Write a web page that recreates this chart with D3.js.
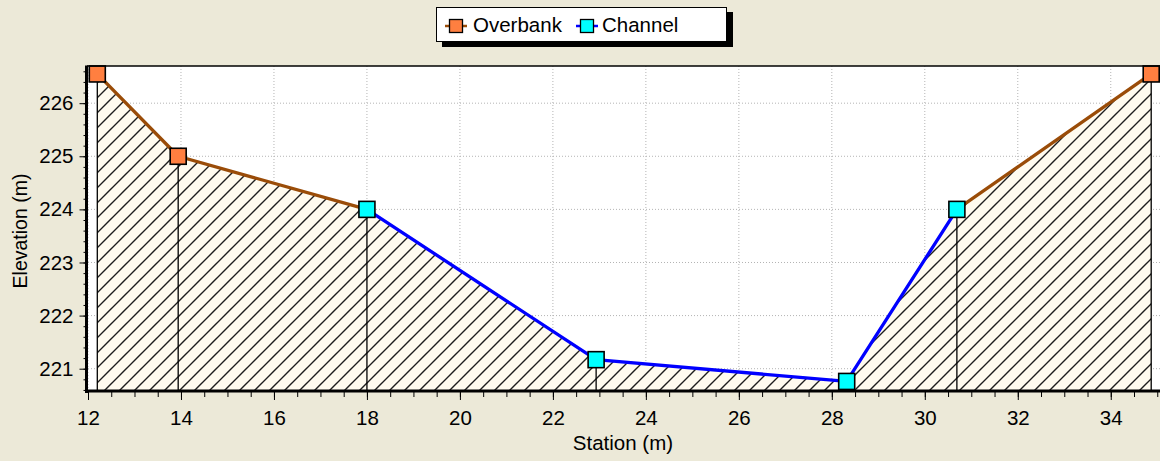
<!DOCTYPE html>
<html>
<head>
<meta charset="utf-8">
<script src="https://cdn.jsdelivr.net/npm/d3@7"></script>
<style>
  html, body { margin: 0; padding: 0; background: #ece9d8; }
  svg { display: block; }
  text { font-family: "Liberation Sans", Arial, sans-serif; fill: #000; }
</style>
</head>
<body>
<svg id="chart" width="1160" height="461"></svg>
<script>
// ---- data ----
const stations   = [12.2, 13.94, 18.0, 22.93, 28.32, 30.69, 34.87];
const elevations = [226.55, 225.0, 224.0, 221.17, 220.76, 224.0, 226.55];
const pointTypes = ["Overbank", "Overbank", "Channel", "Channel", "Channel", "Channel", "Overbank"];
const legendLabels = ["Overbank", "Channel"];
const xTickValues = [12, 14, 16, 18, 20, 22, 24, 26, 28, 30, 32, 34];
const yTickValues = [221, 222, 223, 224, 225, 226];
const xTitle = "Station (m)";
const yTitle = "Elevation (m)";

const colors = {
  Overbank: { line: "#9a4c08", fill: "#ff7f40" },
  Channel:  { line: "#0000ff", fill: "#00ffff" }
};

const W = 1160, H = 461;
const svg = d3.select("#chart");

const x = d3.scaleLinear().domain([12, 35.1]).range([88, 1161.9]);
const y = d3.scaleLinear().domain([220.58, 226.7]).range([391, 66]);

const x0 = x.range()[0], x1 = x.range()[1];
const yTop = y.range()[1], yBot = y.range()[0];

// defs: hatch pattern
const defs = svg.append("defs");
const pat = defs.append("pattern")
  .attr("id", "hatch").attr("patternUnits", "userSpaceOnUse")
  .attr("width", 15).attr("height", 15);
pat.append("rect").attr("width", 15).attr("height", 15).attr("fill", "#fffbef");
pat.append("path").attr("d", "M-2,2 L2,-2 M0,15 L15,0 M13,17 L17,13")
  .attr("stroke", "#1e1e1e").attr("stroke-width", 1.4);

// plot background
svg.append("rect").attr("x", x0).attr("y", yTop)
  .attr("width", x1 - x0).attr("height", yBot - yTop).attr("fill", "#ffffff");

// grid
const grid = svg.append("g").attr("stroke", "#b4b4b4").attr("stroke-dasharray", "1,2").attr("stroke-width", 1);
xTickValues.forEach(v => {
  grid.append("line").attr("x1", x(v)).attr("x2", x(v)).attr("y1", yTop).attr("y2", yBot);
});
yTickValues.forEach(v => {
  grid.append("line").attr("x1", x0).attr("x2", x1).attr("y1", y(v)).attr("y2", y(v));
});

// data points
const pts = stations.map((s, i) => ({ s, e: elevations[i], t: pointTypes[i] }));

// hatched area
const area = d3.area().x(d => x(d.s)).y0(yBot).y1(d => y(d.e));
svg.append("path").datum(pts).attr("d", area).attr("fill", "url(#hatch)");

// vertical station lines
svg.append("g").selectAll("line").data(pts).join("line")
  .attr("x1", d => x(d.s)).attr("x2", d => x(d.s))
  .attr("y1", d => y(d.e)).attr("y2", yBot)
  .attr("stroke", "#000").attr("stroke-width", 1.3);

// line segments
const line = d3.line().x(d => x(d.s)).y(d => y(d.e));
for (let i = 0; i < pts.length - 1; i++) {
  const type = (pts[i].t === "Channel" && pts[i + 1].t === "Channel") ? "Channel" : "Overbank";
  svg.append("path").datum([pts[i], pts[i + 1]]).attr("d", line)
    .attr("fill", "none").attr("stroke", colors[type].line)
    .attr("stroke-width", 3.3).attr("stroke-linecap", "round");
}

// markers
const ms = 16;
svg.append("g").selectAll("rect").data(pts).join("rect")
  .attr("x", d => x(d.s) - ms / 2).attr("y", d => y(d.e) - ms / 2)
  .attr("width", ms).attr("height", ms)
  .attr("fill", d => colors[d.t].fill)
  .attr("stroke", "#000").attr("stroke-width", 1.6);

// background cover below plot
svg.append("rect").attr("x", 0).attr("y", yBot).attr("width", W).attr("height", H - yBot).attr("fill", "#ece9d8");

// axes
const yAxisMajor = d3.axisLeft(y).tickValues(yTickValues).tickSize(7).tickFormat(d3.format("d"));
const yMinor = d3.range(220.6, 226.7, 0.2);
const gy = svg.append("g").attr("transform", `translate(${x0 - 1.5},0)`);
gy.append("g").call(d3.axisLeft(y).tickValues(yMinor).tickSize(3).tickFormat(""))
  .call(g => g.select(".domain").remove());
gy.append("g").call(yAxisMajor).call(g => g.select(".domain").remove())
  .selectAll("text").attr("font-size", 20.5).attr("x", -13).attr("font-family", "Liberation Sans, Arial, sans-serif");

const xMinor = d3.range(12, 35.1, 0.5);
const gx = svg.append("g").attr("transform", `translate(0,${yBot + 1})`);
gx.append("g").call(d3.axisBottom(x).tickValues(xMinor).tickSize(5).tickFormat(""))
  .call(g => g.select(".domain").remove());
gx.append("g").call(d3.axisBottom(x).tickValues(xTickValues).tickSize(8).tickFormat(d3.format("d")))
  .call(g => g.select(".domain").remove())
  .selectAll("text").attr("font-size", 20.5).attr("y", 18).attr("font-family", "Liberation Sans, Arial, sans-serif");
svg.selectAll(".tick line").attr("stroke", "#000");

// frame lines
svg.append("line").attr("x1", x0 - 1).attr("x2", W).attr("y1", yTop).attr("y2", yTop)
  .attr("stroke", "#000").attr("stroke-width", 1.5);
svg.append("line").attr("x1", x0 - 1.5).attr("x2", x0 - 1.5).attr("y1", yTop - 0.5).attr("y2", yBot + 2)
  .attr("stroke", "#000").attr("stroke-width", 3);
svg.append("line").attr("x1", x0 - 3).attr("x2", W).attr("y1", yBot).attr("y2", yBot)
  .attr("stroke", "#000").attr("stroke-width", 3);

// axis titles
svg.append("text").attr("x", (x0 + x1) / 2 - 2).attr("y", 450)
  .attr("text-anchor", "middle").attr("font-size", 20.5).text(xTitle);
svg.append("text").attr("transform", "translate(27,231) rotate(-90)")
  .attr("text-anchor", "middle").attr("font-size", 19.5).text(yTitle);

// legend
const lg = svg.append("g");
lg.append("rect").attr("x", 442).attr("y", 12).attr("width", 291).attr("height", 35).attr("fill", "#000");
lg.append("rect").attr("x", 436.5).attr("y", 7.5).attr("width", 290).attr("height", 34)
  .attr("fill", "#fff").attr("stroke", "#000").attr("stroke-width", 1);
const legendX = [445, 576];
const textX = [473, 602];
legendLabels.forEach((lab, i) => {
  const c = colors[lab];
  lg.append("line").attr("x1", legendX[i]).attr("x2", legendX[i] + 22).attr("y1", 26).attr("y2", 26)
    .attr("stroke", c.line).attr("stroke-width", 2.5);
  lg.append("rect").attr("x", legendX[i] + 4.5).attr("y", 19.5).attr("width", 13).attr("height", 13)
    .attr("fill", c.fill).attr("stroke", "#000").attr("stroke-width", 1.3);
  lg.append("text").attr("x", textX[i]).attr("y", 32).attr("font-size", 20.5).text(lab);
});
</script>
</body>
</html>
